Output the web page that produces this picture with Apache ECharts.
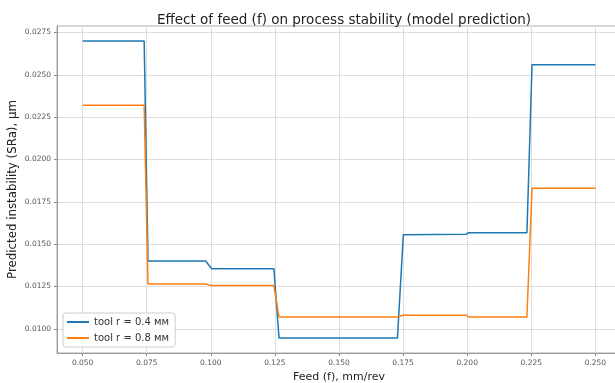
<!DOCTYPE html>
<html>
<head>
<meta charset="utf-8">
<script src="https://cdn.jsdelivr.net/npm/echarts@6/dist/echarts.min.js"></script>
<style>
  html, body { margin: 0; padding: 0; background: #fff; }
  #chart { width: 615px; height: 383px; }
</style>
</head>
<body>
<div id="chart"></div>
<script>
// feed points where the predicted steps start / end
const feed = [0.050, 0.074, 0.0755, 0.098, 0.1003, 0.1246, 0.1266, 0.1728, 0.1751, 0.1995, 0.2005, 0.2233, 0.2253, 0.250]
// tool r = 0.4 мм
const r04 = [0.0270, 0.0270, 0.0140, 0.0140, 0.01355, 0.01355, 0.00945, 0.00945, 0.01556, 0.01558, 0.01567, 0.01567, 0.02559, 0.02559]
// tool r = 0.8 мм
const r08 = [0.0232, 0.0232, 0.01265, 0.01265, 0.01255, 0.01255, 0.01069, 0.01070, 0.01080, 0.01080, 0.01070, 0.01070, 0.0183, 0.0183]

const xTicks = [0.050, 0.075, 0.100, 0.125, 0.150, 0.175, 0.200, 0.225, 0.250]
const yTicks = [0.0100, 0.0125, 0.0150, 0.0175, 0.0200, 0.0225, 0.0250, 0.0275]

const seriesNames = ["tool r = 0.4 мм", "tool r = 0.8 мм"]

function pairs(xs, ys) {
  const out = []
  for (let i = 0; i < xs.length; i++) {
    out.push([xs[i], ys[i]])
  }
  return out
}

const font = "DejaVu Sans"
const myChart = echarts.init(document.getElementById("chart"), null, { renderer: "canvas" })

const option = {
  animation: false,
  title: {
    text: "Effect of feed (f) on process stability (model prediction)",
    left: 339,
    top: 8,
    textAlign: "center",
    textStyle: { fontFamily: font, fontSize: 13.5, fontWeight: "normal", color: "#222" }
  },
  legend: {
    orient: "vertical",
    left: 63,
    top: 313,
    icon: "rect",
    itemWidth: 22,
    itemHeight: 2,
    itemGap: 6,
    padding: [4, 6, 4, 4],
    backgroundColor: "rgba(255,255,255,0.85)",
    borderColor: "#ccc",
    borderWidth: 1,
    borderRadius: 3,
    textStyle: { fontFamily: font, fontSize: 10, color: "#333" },
    data: seriesNames
  },
  grid: {
    left: 57,
    right: -6,
    top: 26,
    bottom: 30,
    outerBoundsMode: "none",
    containLabel: false,
    show: true,
    borderColor: "#aaa",
    borderWidth: 1
  },
  xAxis: {
    type: "value",
    min: 0.04,
    max: 0.26,
    name: "Feed (f), mm/rev",
    nameLocation: "middle",
    nameGap: 16,
    nameTextStyle: { fontFamily: font, fontSize: 11, color: "#222" },
    axisLine: { show: true, lineStyle: { color: "#999" } },
    axisTick: { show: true, length: 3, customValues: xTicks, lineStyle: { color: "#888" } },
    axisLabel: {
      customValues: xTicks,
      margin: 6,
      fontFamily: font,
      fontSize: 7.5,
      color: "#555",
      formatter: v => v.toFixed(3)
    },
    splitLine: { show: true, lineStyle: { color: "#ddd", width: 1 } }
  },
  yAxis: {
    type: "value",
    min: 0.00857,
    max: 0.02788,
    name: "Predicted instability (SRa), µm",
    nameLocation: "middle",
    nameGap: 38,
    nameMoveOverlap: false,
    nameTextStyle: { fontFamily: font, fontSize: 11.8, color: "#222" },
    axisLine: { show: true, lineStyle: { color: "#999" } },
    axisTick: { show: true, length: 3, customValues: yTicks, lineStyle: { color: "#888" } },
    axisLabel: {
      customValues: yTicks,
      margin: 6,
      fontFamily: font,
      fontSize: 7.5,
      color: "#555",
      formatter: v => v.toFixed(4)
    },
    splitLine: { show: true, lineStyle: { color: "#ddd", width: 1 } }
  },
  series: [
    {
      name: seriesNames[0],
      type: "line",
      showSymbol: false,
      symbol: "none",
      data: pairs(feed, r04),
      lineStyle: { color: "#1f77b4", width: 1.5 },
      itemStyle: { color: "#1f77b4" }
    },
    {
      name: seriesNames[1],
      type: "line",
      showSymbol: false,
      symbol: "none",
      data: pairs(feed, r08),
      lineStyle: { color: "#ff7f0e", width: 1.5 },
      itemStyle: { color: "#ff7f0e" }
    }
  ]
}
myChart.setOption(option)
</script>
</body>
</html>
